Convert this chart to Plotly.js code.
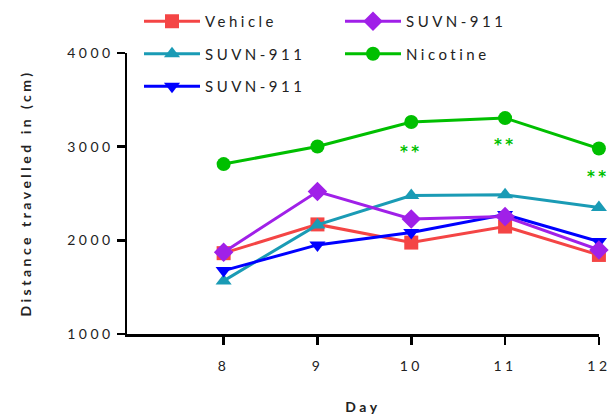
<!DOCTYPE html>
<html>
<head>
<meta charset="utf-8">
<script src="https://cdn.plot.ly/plotly-3.0.1.min.js"></script>
<style>
html,body{margin:0;padding:0;background:#fff;}
text{letter-spacing:3.5px;}
</style>
</head>
<body>
<div id="chart" style="width:610px;height:417px;"></div>
<script>
const days = [8, 9, 10, 11, 12];
const seriesNames = ["Vehicle", "SUVN-911", "SUVN-911", "SUVN-911", "Nicotine"];
const vehicle = [1863, 2170, 1976, 2147, 1844];
const suvnA = [1567, 2165, 2478, 2486, 2350];
const suvnB = [1677, 1951, 2083, 2275, 1987];
const suvnC = [1873, 2521, 2229, 2254, 1898];
const nicotine = [2814, 3002, 3263, 3305, 2981];
const sigDays = [10, 11, 12];
const sigY = [2938, 3013, 2681];
const sigLabel = "**";
const xTitle = "Day";
const yTitle = "Distance travelled in (cm)";

const colors = ["#f44545", "#1a9bb5", "#0000ff", "#a020e8", "#00bf00"];
const symbols = ["square", "triangle-up", "triangle-down", "diamond", "circle"];
const values = [vehicle, suvnA, suvnB, suvnC, nicotine];
const legendIds = ["legend", "legend", "legend", "legend2", "legend2"];

const traces = values.map((v, i) => ({
  x: days, y: v, name: seriesNames[i], type: "scatter", mode: "lines+markers",
  line: {color: colors[i], width: 3},
  marker: {color: colors[i], symbol: symbols[i], size: symbols[i] === "diamond" ? 15 : 14},
  legend: legendIds[i], legendgroup: "g" + i, cliponaxis: false
}));

const W = 610, H = 417, ML = 127, MR = 11, MT = 53, MB = 83;
const font = {family: "Lato, 'Open Sans', sans-serif", size: 14, color: "#222"};
const legendCommon = {
  xref: "container", yref: "container", xanchor: "left", yanchor: "top",
  orientation: "v", traceorder: "grouped", tracegroupgap: 10,
  itemwidth: 56, bgcolor: "rgba(0,0,0,0)", font: {family: font.family, size: 15, color: "#222"}
};

const annotations = sigDays.map((d, i) => ({
  x: d, y: sigY[i], xref: "x", yref: "y", text: sigLabel, showarrow: false,
  font: {family: "'DejaVu Sans', sans-serif", size: 15, color: "#00bf00", weight: "bold"}
}));
annotations.push({
  x: (25 - ML) / (W - ML - MR), y: 0.5, xref: "paper", yref: "paper",
  text: yTitle, textangle: -90, showarrow: false, xanchor: "center", yanchor: "middle",
  font: {family: font.family, size: 14, color: "#222", weight: "bold"}
});

const layout = {
  width: W, height: H,
  margin: {l: ML, r: MR, t: MT, b: MB, autoexpand: false},
  paper_bgcolor: "#fff", plot_bgcolor: "#fff",
  font: font,
  showlegend: true,
  legend: Object.assign({}, legendCommon, {x: 139 / W, y: 1 - 5 / H}),
  legend2: Object.assign({}, legendCommon, {x: 340 / W, y: 1 - 5 / H}),
  xaxis: {
    range: [6.97, 12.001], tickvals: days, ticktext: days.map(String),
    showgrid: false, zeroline: false, showline: true, linecolor: "#000", linewidth: 2.5,
    ticks: "outside", ticklen: 8, tickwidth: 2.5, tickcolor: "#000",
    ticklabelstandoff: 10, tickangle: 0, ticklabeloverflow: "allow",
    tickfont: {family: font.family, size: 14, color: "#222"},
    title: {text: xTitle, font: {family: font.family, size: 14, color: "#222", weight: "bold"}, standoff: 29}
  },
  yaxis: {
    range: [1000, 4000], tickvals: [1000, 2000, 3000, 4000],
    showgrid: false, zeroline: false, showline: true, linecolor: "#000", linewidth: 2.5,
    ticks: "outside", ticklen: 8, tickwidth: 2.5, tickcolor: "#000",
    ticklabeloverflow: "allow",
    tickfont: {family: font.family, size: 14, color: "#222"}
  },
  annotations: annotations
};

Plotly.newPlot("chart", traces, layout, {displayModeBar: false, staticPlot: true});
</script>
</body>
</html>
